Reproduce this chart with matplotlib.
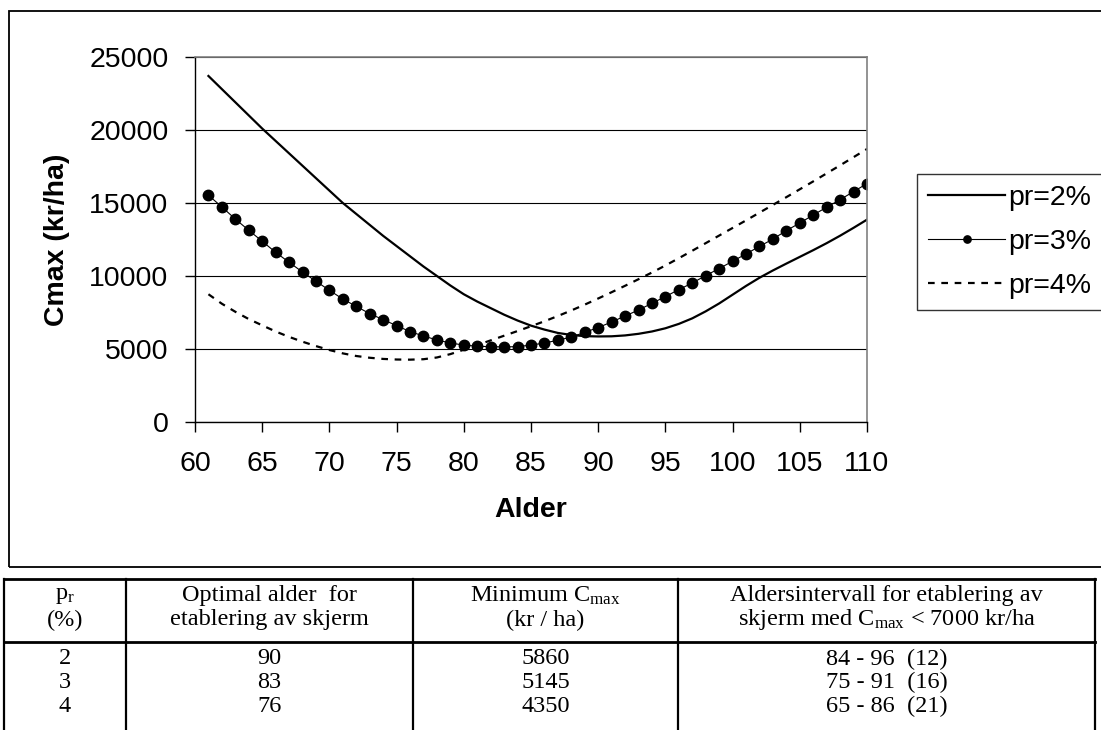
import matplotlib.pyplot as plt
from matplotlib.lines import Line2D
from matplotlib.patches import Rectangle

# alder (x) og Cmax (kr/ha) for tre rentesatser
alder = list(range(61, 111))
pr2 = [23700, 22800, 21900, 21000, 20100, 19250, 18400, 17550, 16700, 15850,
       15000, 14250, 13500, 12750, 12050, 11350, 10650, 10000, 9350, 8750,
       8250, 7800, 7350, 6950, 6600, 6330, 6100, 5960, 5880, 5860,
       5870, 5930, 6040, 6200, 6420, 6720, 7100, 7580, 8120, 8720,
       9320, 9880, 10380, 10850, 11310, 11770, 12250, 12760, 13300, 13860]
pr3 = [15530, 14730, 13900, 13130, 12380, 11620, 10940, 10270, 9640, 9020,
       8420, 7920, 7420, 7010, 6600, 6190, 5890, 5620, 5410, 5270,
       5190, 5160, 5145, 5160, 5270, 5410, 5600, 5820, 6140, 6470,
       6850, 7260, 7670, 8130, 8590, 9070, 9520, 10030, 10510, 11010,
       11510, 12030, 12530, 13110, 13630, 14180, 14710, 15230, 15780, 16330]
pr4 = [8750, 8100, 7550, 7050, 6620, 6200, 5830, 5500, 5200, 4930,
       4700, 4520, 4400, 4320, 4280, 4270, 4300, 4420, 4650, 4950,
       5270, 5590, 5910, 6230, 6560, 6900, 7260, 7640, 8040, 8460,
       8890, 9330, 9780, 10240, 10720, 11220, 11730, 12250, 12770, 13290,
       13810, 14340, 14870, 15400, 15940, 16480, 17030, 17580, 18140, 18700]
serier = ['pr=2%', 'pr=3%', 'pr=4%']

tabell_hode = [['$\\mathregular{p_r}$', '(%)'],
               ['Optimal alder  for', 'etablering av skjerm'],
               ['Minimum $\\mathregular{C_{max}}$', '(kr / ha)'],
               ['Aldersintervall for etablering av',
                'skjerm med $\\mathregular{C_{max}}$ < 7000 kr/ha']]
tabell_rader = [['2', '90', '5860', '84 - 96  (12)'],
                ['3', '83', '5145', '75 - 91  (16)'],
                ['4', '76', '4350', '65 - 86  (21)']]

W, H = 1101, 730
fig = plt.figure(figsize=(W / 100, H / 100), dpi=100)

def fx(px):
    return px / W

def fy(py):
    return 1 - py / H

# ramme rundt diagrammet
fig.patches.append(Rectangle((fx(9), fy(567)), fx(1110) - fx(9), fy(11) - fy(567),
                             transform=fig.transFigure, fill=False,
                             edgecolor='black', lw=1.3))

ax = fig.add_axes([fx(195), fy(422), fx(867) - fx(195), fy(57) - fy(422)])
sans = 'Liberation Sans'

l2, = ax.plot(alder, pr2, color='black', lw=1.6, label=serier[0])
l3, = ax.plot(alder, pr3, color='black', lw=0.8, marker='o', markersize=7.5,
              label=serier[1])
l4, = ax.plot(alder, pr4, color='black', lw=1.6, dashes=(3, 3), label=serier[2])

ax.set_xlim(60, 110)
ax.set_ylim(0, 25000)
ax.set_xticks(range(60, 111, 5))
ax.set_yticks(range(0, 25001, 5000))
ax.grid(axis='y', color='black', lw=0.8)
ax.set_axisbelow(True)
for s in ['top', 'right']:
    ax.spines[s].set_color('#808080')
    ax.spines[s].set_linewidth(1.2)
for s in ['left', 'bottom']:
    ax.spines[s].set_linewidth(1.0)
ax.tick_params(direction='out', length=7, width=1, labelsize=20.5)
ax.tick_params(axis='y', pad=12)
ax.tick_params(axis='x', pad=14)
for t in ax.get_xticklabels() + ax.get_yticklabels():
    t.set_family(sans)
ax.set_xlabel('Alder', fontsize=20.5, fontweight='bold', family=sans, labelpad=14)
ax.set_ylabel('Cmax (kr/ha)', fontsize=20.5, fontweight='bold', family=sans, labelpad=14)

leg = fig.legend(handles=[l2, l3, l4], loc='upper left',
                 bbox_to_anchor=(fx(917), fy(174)), borderaxespad=0,
                 prop={'family': sans, 'size': 20.5}, frameon=True,
                 fancybox=False, edgecolor='black', handlelength=2.7,
                 handletextpad=0.1, borderpad=0.4, labelspacing=0.62,
                 markerscale=0.7)
leg.get_frame().set_linewidth(1.0)

# tabell under diagrammet
serif = 'Liberation Serif'
fs = 17.5
kol = [4, 126, 413, 678, 1095]
topp, hode_bunn = 579, 642
fig.add_artist(Line2D([fx(kol[0]), fx(kol[-1])], [fy(topp), fy(topp)], color='black', lw=2))
fig.add_artist(Line2D([fx(kol[0]), fx(kol[-1])], [fy(hode_bunn), fy(hode_bunn)], color='black', lw=2))
for k in kol:
    fig.add_artist(Line2D([fx(k), fx(k)], [fy(topp), 0], color='black', lw=1.6))

for i, (a, b) in enumerate(tabell_hode):
    cx = fx((kol[i] + kol[i + 1]) / 2)
    fig.text(cx, fy(596), a, ha='center', va='center', family=serif, fontsize=fs)
    fig.text(cx, fy(620), b, ha='center', va='center', family=serif, fontsize=fs)
for r, rad in enumerate(tabell_rader):
    for i, v in enumerate(rad):
        cx = fx((kol[i] + kol[i + 1]) / 2)
        fig.text(cx, fy(659 + 23.5 * r), v, ha='center', va='center', family=serif, fontsize=fs)

fig.savefig('out.png', dpi=100)
